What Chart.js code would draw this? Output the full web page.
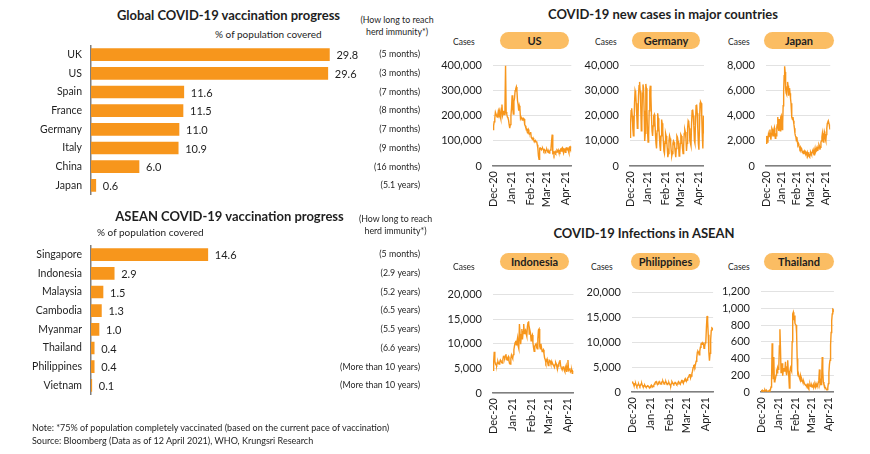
<!DOCTYPE html>
<html lang="en">
<head>
<meta charset="UTF-8">
<title>COVID-19 vaccination progress and new cases</title>
<script src="https://cdn.jsdelivr.net/npm/chart.js@4.4.0/dist/chart.umd.min.js"></script>
<style>
    body { margin: 0; width: 870px; height: 454px; position: relative; overflow: hidden; background: #fff;
           font-family: Lato, "Open Sans", sans-serif; color: #1e1e1e; }
    canvas { position: absolute; }
    .t { position: absolute; white-space: nowrap; line-height: 1; }
    .c { transform: translate(-50%, -50%); text-align: center; }
    .m { transform: translateY(-50%); }
    .title { font-weight: bold; font-size: 13px; }
    .herd { font-size: 8.8px; line-height: 12px; }
    .pill { position: absolute; background: #fbbd63; border-radius: 9px; font-weight: bold; font-size: 11px;
            display: flex; align-items: center; justify-content: center; }
    .cases { font-size: 8.5px; }
    .note { font-size: 9px; }
</style>
</head>
<body>
<!-- left side: vaccination progress -->
<div class="t c title" style="left:228.5px;top:15px">Global COVID-19 vaccination progress</div>
<div class="t m" style="left:215px;top:34px;font-size:10px">% of population covered</div>
<div class="t c herd" style="left:397px;top:26px">(How long to reach<br>herd immunity*)</div>
<canvas id="global-bars" width="440" height="180" style="left:0;top:30px"></canvas>

<div class="t c title" style="left:229.5px;top:216px">ASEAN COVID-19 vaccination progress</div>
<div class="t m" style="left:97px;top:232px;font-size:10px">% of population covered</div>
<div class="t c herd" style="left:395.5px;top:225px">(How long to reach<br>herd immunity*)</div>
<canvas id="asean-bars" width="440" height="180" style="left:0;top:230px"></canvas>

<div class="t m note" style="left:32px;top:427px">Note: *75% of population completely vaccinated (based on the current pace of vaccination)</div>
<div class="t m note" style="left:32px;top:440px">Source: Bloomberg (Data as of 12 April 2021), WHO, Krungsri Research</div>

<!-- right side: new cases -->
<div class="t c title" style="left:663px;top:14px">COVID-19 new cases in major countries</div>
<div class="t c title" style="left:644px;top:233px">COVID-19 Infections in ASEAN</div>

<div class="pill" style="left:500px;top:31.5px;width:69px;height:17px">US</div>
<div class="pill" style="left:632px;top:32px;width:68px;height:16.5px">Germany</div>
<div class="pill" style="left:764px;top:31.5px;width:70px;height:17px">Japan</div>
<div class="pill" style="left:500px;top:252.5px;width:69px;height:17.5px">Indonesia</div>
<div class="pill" style="left:631px;top:253px;width:69px;height:17px">Philippines</div>
<div class="pill" style="left:764px;top:252.5px;width:70px;height:17.5px">Thailand</div>

<div class="t m cases" style="left:453px;top:42px">Cases</div>
<div class="t m cases" style="left:595px;top:42px">Cases</div>
<div class="t m cases" style="left:728px;top:42px">Cases</div>
<div class="t m cases" style="left:453px;top:267px">Cases</div>
<div class="t m cases" style="left:591px;top:267px">Cases</div>
<div class="t m cases" style="left:728px;top:267px">Cases</div>

<script>
    // vaccination progress (% of population covered)
    const globalCountries = ['UK', 'US', 'Spain', 'France', 'Germany', 'Italy', 'China', 'Japan'];
    const globalCoverage = [29.8, 29.6, 11.6, 11.5, 11.0, 10.9, 6.0, 0.6];
    const globalHerd = ['(5 months)', '(3 months)', '(7 months)', '(8 months)', '(7 months)', '(9 months)', '(16 months)', '(5.1 years)'];

    const aseanCountries = ['Singapore', 'Indonesia', 'Malaysia', 'Cambodia', 'Myanmar', 'Thailand', 'Philippines', 'Vietnam'];
    const aseanCoverage = [14.6, 2.9, 1.5, 1.3, 1.0, 0.4, 0.4, 0.1];
    const aseanHerd = ['(5 months)', '(2.9 years)', '(5.2 years)', '(6.5 years)', '(5.5 years)', '(6.6 years)', '(More than 10 years)', '(More than 10 years)'];

    // daily new cases from 1 Dec 2020, x = days since 1 Dec
    const monthStarts = [0, 31, 62, 90, 121];
    const monthLabels = ['Dec-20', 'Jan-21', 'Feb-21', 'Mar-21', 'Apr-21'];

    const usCases = [
        145000, 160000, 176000, 190000, 214000, 214000, 200000, 195000, 205000, 220000,
        210000, 220000, 200000, 189000, 230000, 245000, 201000, 210000, 220000, 205000,
        230000, 400000, 215000, 207000, 195000, 192000, 183000, 165000, 151000, 165000,
        200000, 232000, 282000, 230000, 207000, 257000, 270000, 300000, 307000, 315000,
        300000, 260000, 245000, 220000, 240000, 230000, 189000, 195000, 195000, 183000,
        190000, 190000, 187000, 165000, 160000, 151000, 150000, 145000, 139000, 145000,
        135000, 127000, 130000, 135000, 114000, 110000, 108000, 112000, 105000, 96000,
        100000, 102000, 96000, 98000, 85000, 71000, 40000, 27000, 71000, 72000,
        68000, 65000, 70000, 71000, 66000, 60000, 65000, 62000, 58000, 63000,
        66000, 60000, 55000, 58000, 52000, 60000, 64000, 70000, 100000, 125000,
        52000, 55000, 46000, 55000, 58000, 52000, 56000, 62000, 58000, 64000,
        55000, 50000, 62000, 66000, 60000, 70000, 73000, 60000, 52000, 68000,
        70000, 55000, 71000, 72000, 65000, 74000, 60000, 52000, 75000, 77000,
        70000, 78000
    ];
    const germanyCases = [
        11400, 17000, 22000, 23000, 20000, 15000, 12000,
        14000, 25000, 30000, 29000, 25000, 20000, 15000,
        16000, 28000, 32000, 33500, 30000, 24000, 14000,
        17000, 29000, 32500, 31000, 22000, 10000, 13000,
        32700, 31000, 22000, 14000, 9500, 12000, 22000,
        30000, 32000, 28000, 20000, 14000, 12000, 16000,
        20000, 20500, 18000, 13000, 9000, 7000, 14000,
        21000, 19000, 16000, 12000, 8000, 6000, 12000,
        18500, 17000, 14000, 10000, 6000, 5000, 9000,
        13000, 12000, 10000, 7000, 3500, 5000, 10000,
        12000, 11000, 9000, 6000, 4000, 5000, 9000,
        10000, 9500, 8000, 5500, 3500, 7000, 12000,
        11500, 10000, 8000, 4000, 5000, 9000, 12500,
        12000, 10000, 7000, 5000, 8000, 13000, 14500,
        13500, 11000, 6000, 9000, 15000, 18000, 17500,
        15000, 10000, 9000, 8000, 17000, 22000, 22500,
        20000, 16000, 10000, 9000, 18000, 24000, 24500,
        21000, 15000, 9000, 6500, 15000, 25000, 25500,
        25000, 20000, 12000, 7000, 20000, 13000
    ];
    const japanCases = [
        1800, 2300, 2400, 1900, 2100, 2500, 2300, 2600, 2900, 2400,
        2100, 2600, 3000, 2900, 2400, 2400, 2900, 3050, 2600, 2200,
        2600, 2400, 3100, 3300, 3900, 3000, 2800, 3750, 3100, 2800,
        3900, 4000, 3300, 2900, 3400, 4800, 6000, 7200, 7950, 7500,
        6200, 5800, 5700, 6300, 6700, 6400, 5600, 6000, 6200, 5800,
        5400, 5000, 4400, 3900, 3700, 3900, 3600, 3300, 3000, 2600,
        2400, 2300, 2000, 2300, 1900, 1700, 1800, 1600, 1500, 1400,
        1500, 1300, 1400, 1300, 1100, 1200, 1000, 1100, 1200, 1100,
        1150, 1000, 900, 1000, 1100, 800, 900, 1100, 750, 700,
        900, 1100, 1000, 900, 1100, 1200, 1300, 1000, 900, 1200,
        1400, 1100, 1200, 1400, 1500, 1300, 1200, 1500, 1700, 1600,
        1300, 1500, 1900, 2000, 2300, 2600, 2200, 1900, 2300, 2750,
        2600, 2150, 2000, 2500, 3000, 3400, 3500, 3600, 3600, 3300,
        3000, 2900
    ];
    const indonesiaCases = [
        4600, 6200, 8400, 6500, 5900, 5700, 5600, 6200, 6400, 6000,
        5900, 6300, 6700, 6500, 6200, 6100, 6800, 7400, 7300, 7100,
        7600, 7900, 6900, 6700, 7200, 7400, 6500, 6000, 5900, 7000,
        7700, 7300, 7000, 7800, 8800, 9600, 10200, 10600, 9800, 10500,
        11200, 9500, 9000, 14000, 12000, 9900, 11500, 13000, 10900, 12500,
        14000, 12100, 12600, 12800, 12000, 11500, 13500, 14300, 14600, 12000,
        12800, 12200, 10600, 11500, 11800, 10200, 9200, 8500, 9500, 9800,
        10000, 9300, 9000, 11000, 12800, 13000, 9500, 9000, 10000, 9200,
        8400, 8600, 8800, 8000, 7100, 6800, 6200, 6600, 6900, 6100,
        5600, 6200, 6600, 6500, 6000, 5900, 6300, 6000, 5700, 5500,
        5200, 5800, 6200, 5900, 5300, 4900, 5500, 5900, 6300, 6700,
        5600, 5200, 4900, 4800, 5300, 5400, 4600, 4300, 5200, 5600,
        4300, 5000, 6700, 4600, 4800, 5000, 4300, 4500, 4600, 4000,
        4400, 4200
    ];
    const philippinesCases = [
        2100, 1900, 1800, 1400, 1300, 1600, 1750, 1400, 1100, 1300,
        1500, 1600, 1300, 1100, 1300, 1600, 1750, 1400, 1100, 1000,
        1200, 1400, 1200, 1000, 1000, 1150, 1250, 1200, 1000, 800,
        900, 1200, 1400, 1200, 1000, 1100, 1350, 1600, 1800, 2000,
        2100, 1800, 1500, 1600, 1900, 2100, 1900, 1700, 1600, 1900,
        2100, 2200, 1900, 1600, 1800, 2000, 2100, 1800, 1500, 1600,
        1800, 1900, 1600, 1400, 1250, 1700, 2100, 1900, 1700, 1550,
        1700, 1900, 1900, 1700, 1500, 1600, 1900, 2100, 1900, 1700,
        1600, 2000, 2300, 2300, 2000, 1800, 2200, 2500, 2700, 2400,
        2200, 2400, 2800, 3000, 3200, 3500, 3500, 2900, 3200, 3700,
        4200, 4900, 5300, 5400, 5100, 5600, 6200, 6900, 8000, 8200,
        8000, 7500, 8200, 9000, 9700, 9800, 9600, 9900, 9800, 8800,
        9000, 9900, 10100, 13000, 15300, 14300, 11500, 8000, 6300, 7800,
        10500, 12400, 12900, 12800, 12500
    ];
    const thailandCases = [
        10, 15, 12, 20, 15, 10, 18, 25, 12, 15,
        20, 12, 8, 10, 15, 20, 12, 30, 60, 150,
        583, 400, 160, 417, 122, 130, 160, 200, 250, 230,
        288, 270, 300, 550, 750, 527, 232, 300, 343, 195,
        260, 288, 250, 270, 362, 250, 200, 300, 380, 250,
        180, 48, 250, 290, 270, 250, 600, 934, 952, 860,
        915, 823, 805, 800, 700, 400, 214, 190, 200, 170,
        150, 190, 130, 160, 140, 120, 110, 122, 100, 90,
        85, 80, 75, 90, 70, 85, 60, 80, 95, 70,
        65, 80, 60, 70, 90, 55, 70, 85, 60, 100,
        80, 90, 75, 120, 160, 270, 100, 130, 90, 160,
        417, 250, 120, 90, 80, 60, 48, 35, 30, 28,
        50, 100, 232, 330, 380, 560, 712, 850, 934, 990,
        985, 970
    ];

    const ORANGE = '#f7961c';
    const AXIS = '#7f7f7f';
    Chart.defaults.font.family = 'Lato, "Open Sans", sans-serif';
    Chart.defaults.color = '#1e1e1e';

    // value printed just past the end of each bar
    const barValues = {
        id: 'barValues',
        afterDatasetsDraw(chart) {
            const ctx = chart.ctx;
            const ds = chart.data.datasets[0];
            ctx.save();
            ctx.font = '11px Lato, "Open Sans", sans-serif';
            ctx.fillStyle = '#1e1e1e';
            ctx.textBaseline = 'middle';
            chart.getDatasetMeta(0).data.forEach((bar, i) => {
                ctx.fillText(ds.data[i].toFixed(1), bar.x + 7, bar.y + 1);
            });
            ctx.restore();
        }
    };

    function drawBars(id, countries, coverage, herd, pad) {
        new Chart(id, {
            type: 'bar',
            data: {
                labels: countries,
                datasets: [{ data: coverage, backgroundColor: ORANGE, barThickness: 12 }]
            },
            options: {
                indexAxis: 'y',
                responsive: false,
                animation: false,
                layout: { padding: pad },
                plugins: { legend: { display: false }, tooltip: { enabled: false } },
                scales: {
                    x: { display: false, min: 0, max: 30 },
                    y: {
                        offset: true,
                        afterFit: (s) => { s.width = 91; },
                        grid: { display: false, drawTicks: false },
                        border: { display: true, color: AXIS, width: 1.5 },
                        ticks: { autoSkip: false, padding: 9, font: { size: 10.5 }, color: '#1e1e1e' }
                    },
                    herd: {
                        type: 'category',
                        axis: 'y',
                        position: 'right',
                        offset: true,
                        labels: herd,
                        afterFit: (s) => { s.width = 89; },
                        grid: { display: false, drawTicks: false },
                        border: { display: false },
                        ticks: { autoSkip: false, padding: 0, crossAlign: 'far', font: { size: 8.8 }, color: '#1e1e1e' }
                    }
                }
            },
            plugins: [barValues]
        });
    }

    drawBars('global-bars', globalCountries, globalCoverage, globalHerd, { top: 7, bottom: 9.5, left: 0, right: 20 });
    drawBars('asean-bars', aseanCountries, aseanCoverage, aseanHerd, { top: 8, bottom: 9, left: 0, right: 20 });

    // box = plot area [left, top, right, bottom] on the page
    function drawCases(box, values, yMax, yStep) {
        const cv = document.createElement('canvas');
        const left = box[0] - 66, top = box[1] - 10;
        cv.width = Math.round(box[2] - left + 6);
        cv.height = Math.round(box[3] - top + 46);
        cv.style.left = left + 'px';
        cv.style.top = top + 'px';
        document.body.appendChild(cv);
        new Chart(cv, {
            type: 'line',
            data: {
                datasets: [{
                    data: values.map((v, i) => ({ x: i, y: v })),
                    borderColor: ORANGE,
                    borderWidth: 1.4,
                    pointRadius: 0,
                    tension: 0
                }]
            },
            options: {
                responsive: false,
                animation: false,
                layout: { padding: { top: 10, right: cv.width - (box[2] - left), left: 0, bottom: 0 } },
                plugins: { legend: { display: false }, tooltip: { enabled: false } },
                scales: {
                    x: {
                        type: 'linear',
                        min: 0,
                        max: values.length - 1,
                        afterBuildTicks: (s) => { s.ticks = monthStarts.map(v => ({ value: v })); },
                        afterFit: (s) => { s.height = cv.height - (box[3] - top); },
                        grid: { display: false, drawTicks: false },
                        border: { display: true, color: AXIS, width: 1.5 },
                        ticks: {
                            minRotation: 90, maxRotation: 90, padding: 5,
                            font: { size: 11 }, color: '#1e1e1e',
                            callback: (v) => monthLabels[monthStarts.indexOf(v)]
                        }
                    },
                    y: {
                        min: 0,
                        max: yMax,
                        afterFit: (s) => { s.width = 66; },
                        grid: { color: '#e2e2e2', drawTicks: false },
                        border: { display: false },
                        ticks: {
                            stepSize: yStep, padding: 11,
                            font: { size: 11 }, color: '#1e1e1e',
                            callback: (v) => v.toLocaleString('en-US')
                        }
                    }
                }
            }
        });
    }

    drawCases([493, 58, 578, 166], usCases, 400000, 100000);
    drawCases([630, 58, 711, 166], germanyCases, 40000, 10000);
    drawCases([766, 58, 838, 166], japanCases, 8000, 2000);
    drawCases([493, 287, 580, 393], indonesiaCases, 20000, 5000);
    drawCases([632, 285, 718, 392], philippinesCases, 20000, 5000);
    drawCases([761, 284, 841, 392], thailandCases, 1200, 200);
</script>
</body>
</html>
